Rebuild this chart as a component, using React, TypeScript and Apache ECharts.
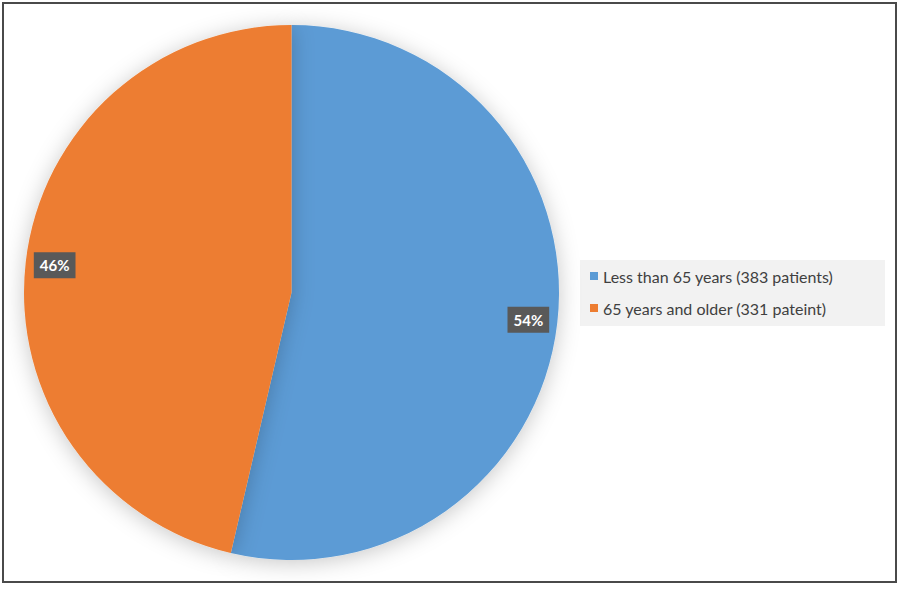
import React, { useEffect, useRef } from "react";
import * as echarts from "echarts";

const categories = ["Less than 65 years (383 patients)", "65 years and older (331 pateint)"];
const values = [383, 331];
const colors = ["#5B9BD5", "#ED7D31"];

export default function App() {
  const ref = useRef<HTMLDivElement>(null);
  useEffect(() => {
    if (!ref.current) return;
    const chart = echarts.init(ref.current, null, { renderer: "svg" });
    const R = 267.5;
    const center = [291.5, 292.5];
    const font = "Lato, 'Noto Sans', sans-serif";
    const data = categories.map((name, i) => ({ name, value: values[i], itemStyle: { color: colors[i] } }));
    chart.setOption({
      animation: false,
      backgroundColor: "#ffffff",
      graphic: [
        {
          type: "rect",
          shape: { x: 3, y: 3, width: 893, height: 579 },
          style: { fill: "none", stroke: "#4a4a4a", lineWidth: 2 },
          z: 100,
        },
        {
          type: "rect",
          shape: { x: 580, y: 260, width: 305, height: 66 },
          style: { fill: "#f2f2f2" },
          z: 0,
        },
      ],
      legend: {
        orient: "vertical",
        left: 590,
        top: 268,
        padding: 0,
        itemWidth: 8,
        itemHeight: 8,
        itemGap: 16,
        icon: "rect",
        z: 10,
        data: categories.map((name, i) => ({ name, itemStyle: { color: colors[i] } })),
        textStyle: { color: "#404040", fontSize: 16, fontFamily: font },
        selectedMode: false,
      },
      series: [
        {
          type: "pie",
          center,
          radius: [0, R],
          startAngle: 90,
          clockwise: true,
          label: { show: false },
          labelLine: { show: false },
          itemStyle: { shadowBlur: 22, shadowColor: "rgba(0,0,0,0.22)", shadowOffsetY: 3 },
          emphasis: { disabled: true },
          data,
        },
        {
          type: "pie",
          center,
          radius: [R * 0.76, R],
          startAngle: 90,
          clockwise: true,
          silent: true,
          percentPrecision: 0,
          itemStyle: { color: "transparent" },
          emphasis: { disabled: true },
          label: {
            show: true,
            position: "inside",
            formatter: "{d}%",
            color: "#ffffff",
            fontWeight: "bold",
            fontSize: 15,
            fontFamily: font,
            backgroundColor: "#595959",
            padding: [6, 6, 5, 6],
          },
          labelLine: { show: false },
          data: categories.map((name, i) => ({ name, value: values[i], itemStyle: { color: "transparent" } })),
        },
      ],
    });
    return () => chart.dispose();
  }, []);
  return <div ref={ref} style={{ position: "absolute", left: 0, top: 0, width: 900, height: 589 }} />;
}
